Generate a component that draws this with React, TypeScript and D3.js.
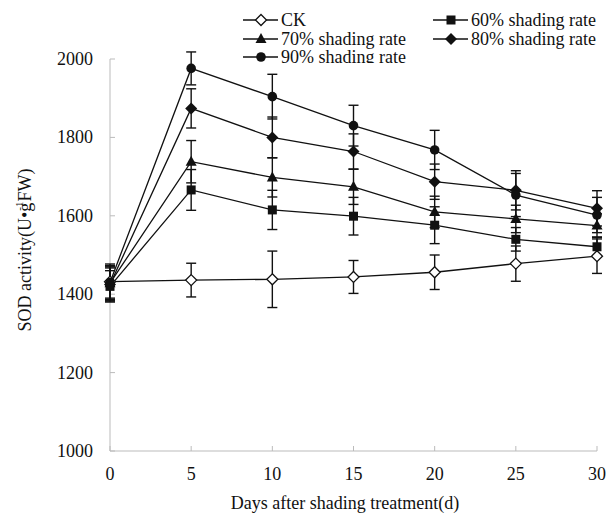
import React from "react";
import * as d3 from "d3";

const days = [0, 5, 10, 15, 20, 25, 30];
const xTicks = [0, 5, 10, 15, 20, 25, 30];
const yTicks = [1000, 1200, 1400, 1600, 1800, 2000];

const ckValues = [1432, 1436, 1438, 1444, 1456, 1478, 1497];
const ckErrors = [45, 43, 72, 42, 44, 45, 44];
const s60Values = [1420, 1666, 1615, 1599, 1576, 1540, 1521];
const s60Errors = [40, 52, 50, 48, 47, 30, 25];
const s70Values = [1428, 1738, 1698, 1674, 1610, 1592, 1575];
const s70Errors = [45, 54, 50, 45, 40, 35, 30];
const s80Values = [1425, 1874, 1800, 1764, 1687, 1665, 1619];
const s80Errors = [42, 50, 52, 45, 45, 50, 45];
const s90Values = [1430, 1976, 1904, 1830, 1768, 1653, 1602];
const s90Errors = [40, 42, 57, 52, 50, 55, 45];

const seriesNames = ["CK", "60% shading rate", "70% shading rate", "80% shading rate", "90% shading rate"];

type Shape = "openDiamond" | "square" | "triangle" | "diamond" | "circle";

const series = [
  { name: seriesNames[0], values: ckValues, errors: ckErrors, shape: "openDiamond" as Shape },
  { name: seriesNames[1], values: s60Values, errors: s60Errors, shape: "square" as Shape },
  { name: seriesNames[2], values: s70Values, errors: s70Errors, shape: "triangle" as Shape },
  { name: seriesNames[3], values: s80Values, errors: s80Errors, shape: "diamond" as Shape },
  { name: seriesNames[4], values: s90Values, errors: s90Errors, shape: "circle" as Shape },
];

const FONT = "'Liberation Serif', 'Times New Roman', serif";
const INK = "#111";

function Marker({ shape, x, y }: { shape: Shape; x: number; y: number }) {
  switch (shape) {
    case "openDiamond":
      return <path d={`M${x},${y - 5.5}L${x + 5.5},${y}L${x},${y + 5.5}L${x - 5.5},${y}Z`} fill="#fff" stroke={INK} strokeWidth={1.3} />;
    case "diamond":
      return <path d={`M${x},${y - 6}L${x + 6},${y}L${x},${y + 6}L${x - 6},${y}Z`} fill={INK} />;
    case "square":
      return <rect x={x - 4.5} y={y - 4.5} width={9} height={9} fill={INK} />;
    case "triangle":
      return <path d={`M${x},${y - 6}L${x + 5.5},${y + 4}L${x - 5.5},${y + 4}Z`} fill={INK} />;
    case "circle":
      return <circle cx={x} cy={y} r={4.8} fill={INK} />;
  }
}

export default function App() {
  const width = 610;
  const height = 522;
  const x = d3.scaleLinear().domain([0, 30]).range([110, 597]);
  const y = d3.scaleLinear().domain([1000, 2000]).range([451, 59]);
  const line = d3
    .line<number>()
    .x((_, i) => x(days[i]))
    .y((v) => y(v));

  const legendItems = [
    { s: series[0], lx: 243, row: 0 },
    { s: series[1], lx: 433, row: 0 },
    { s: series[2], lx: 243, row: 1 },
    { s: series[3], lx: 433, row: 1 },
    { s: series[4], lx: 243, row: 2 },
  ];
  const rowY = [20, 39, 57];

  return (
    <svg width={width} height={height} style={{ position: "absolute", left: 0, top: 0, background: "#fff" }} fontFamily={FONT}>
      <defs>
        <clipPath id="legclip">
          <rect x={0} y={0} width={width} height={63} />
        </clipPath>
      </defs>
      <rect width={width} height={height} fill="#fff" />
      {/* axes */}
      <line x1={x(0)} x2={x(30)} y1={y(1000)} y2={y(1000)} stroke="#bbb" strokeWidth={1} />
      <line x1={x(0)} x2={x(0)} y1={y(1000)} y2={y(2000)} stroke="#bbb" strokeWidth={1} />
      {xTicks.map((t) => (
        <g key={"xt" + t}>
          <line x1={x(t)} x2={x(t)} y1={y(1000)} y2={y(1000) - 5} stroke="#bbb" />
          <text x={x(t)} y={480} textAnchor="middle" fontSize={18} fill={INK}>
            {t}
          </text>
        </g>
      ))}
      {yTicks.map((t) => (
        <g key={"yt" + t}>
          <line x1={x(0)} x2={x(0) + 5} y1={y(t)} y2={y(t)} stroke="#bbb" />
          <text x={93} y={y(t) + 6} textAnchor="end" fontSize={18} fill={INK}>
            {t}
          </text>
        </g>
      ))}
      <text x={345} y={509} textAnchor="middle" fontSize={18} fill={INK}>
        Days after shading treatment(d)
      </text>
      <text transform="translate(31,250) rotate(-90)" textAnchor="middle" fontSize={18} fill={INK}>
        SOD activity(U•g
        <tspan dx={-8} dy={-8} fontSize={11}>-1</tspan>
        <tspan dy={8}>FW)</tspan>
      </text>
      {/* error bars */}
      {series.map((s) =>
        s.values.map((v, i) => (
          <g key={s.name + "e" + i} stroke={INK} strokeWidth={1.4}>
            <line x1={x(days[i])} x2={x(days[i])} y1={y(v - s.errors[i])} y2={y(v + s.errors[i])} />
            <line x1={x(days[i]) - 5} x2={x(days[i]) + 5} y1={y(v - s.errors[i])} y2={y(v - s.errors[i])} />
            <line x1={x(days[i]) - 5} x2={x(days[i]) + 5} y1={y(v + s.errors[i])} y2={y(v + s.errors[i])} />
          </g>
        ))
      )}
      {/* lines */}
      {series.map((s) => (
        <path key={s.name + "l"} d={line(s.values) || ""} fill="none" stroke={INK} strokeWidth={1.3} />
      ))}
      {/* markers */}
      {series.map((s) =>
        s.values.map((v, i) => <Marker key={s.name + "m" + i} shape={s.shape} x={x(days[i])} y={y(v)} />)
      )}
      {/* legend */}
      <g clipPath="url(#legclip)">
        {legendItems.map(({ s, lx, row }) => (
          <g key={"lg" + s.name}>
            <line x1={lx} x2={lx + 35} y1={rowY[row]} y2={rowY[row]} stroke={INK} strokeWidth={1.3} />
            <Marker shape={s.shape} x={lx + 18} y={rowY[row]} />
            <text x={lx + 38} y={rowY[row] + 6} fontSize={18} fill={INK}>
              {s.name}
            </text>
          </g>
        ))}
      </g>
    </svg>
  );
}
